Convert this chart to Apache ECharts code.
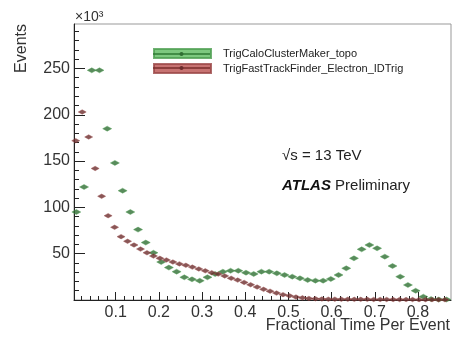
<!DOCTYPE html>
<html><head><meta charset="utf-8">
<script src="https://cdn.jsdelivr.net/npm/echarts@6/dist/echarts.min.js"></script>
<style>html,body{margin:0;padding:0;background:#fff}#c{width:453px;height:337px}</style>
</head><body><div id="c"></div>
<script>
// ---- data (Events in units of 10^3) ----
const seriesNames = ['TrigCaloClusterMaker_topo', 'TrigFastTrackFinder_Electron_IDTrig'];
const caloBinWidth = 1 / 56;
const caloEvents = [95, 122, 248, 248, 185, 148, 118, 95, 76, 62,
  51, 41, 35, 30.6, 24.5, 22.3, 20.8, 24.5, 28, 30.6,
  31.6, 31.6, 29.5, 28.1, 30.6, 30.6, 28.8, 27, 25.2, 23.4,
  21.6, 20.9, 20.9, 22.7, 27, 34.2, 45, 54.7, 59.4, 55.8,
  46.8, 36.7, 25.2, 16.2, 10, 3.6, 1, 0.5, 0.5];
const trackBinWidth = 0.015;
const trackEvents = [172, 203, 176, 142, 112, 91, 78.5, 68.4, 63.4, 59.4,
  55, 51, 47.5, 45, 43.2, 41, 39, 37.5, 35.5, 33.5,
  31.5, 29.5, 28, 26, 23.5, 21.5, 19, 16.5, 14, 11.5,
  9.5, 7.5, 5.8, 4.5, 3.2, 2.3, 1.7, 1.3, 1.1, 0.9,
  0.9, 0.8, 0.8, 0.7, 0.7, 0.7, 0.6, 0.6, 0.6, 0.5,
  0.5, 0.5, 0.5, 0.4, 0.4, 0.4, 0.3, 0.3];
const xTickLabels = [0.1, 0.2, 0.3, 0.4, 0.5, 0.6, 0.7, 0.8];
const yTickLabels = [50, 100, 150, 200, 250];
const xTitle = 'Fractional Time Per Event';
const yTitle = 'Events';

// minor tick lists
const xMinor = [];
for (let i = 1; i <= 43; i++) { if (i % 5 !== 0) xMinor.push(+(i * 0.02).toFixed(2)); }
const yMinor = [];
for (let v = 10; v <= 290; v += 10) { if (v % 50 !== 0) yMinor.push(v); }

const toPoints = (vals, w) => vals.map((v, i) => [(i + 0.5) * w, v]);

const FONT = "'Liberation Sans', Arial, Helvetica, sans-serif";
const X_MIN = 0.0035, X_MAX = 0.8765, Y_MIN = 0, Y_MAX = 298;

const chart = echarts.init(document.getElementById('c'), null, {renderer: 'canvas'});
chart.setOption({
  animation: false,
  backgroundColor: '#fff',
  textStyle: {fontFamily: FONT},
  grid: {left: 74, right: 2, top: 24, bottom: 37, show: true, borderColor: '#999', borderWidth: 1,
    containLabel: false, outerBoundsMode: 'none'},
  xAxis: [{
    type: 'value', min: X_MIN, max: X_MAX,
    axisLine: {lineStyle: {color: '#222', width: 1}},
    axisTick: {inside: true, length: 8, customValues: xTickLabels, lineStyle: {color: '#222'}},
    axisLabel: {customValues: xTickLabels, fontSize: 16, color: '#333', margin: 5,
      formatter: v => v.toFixed(1)},
    splitLine: {show: false}
  }, {
    type: 'value', min: X_MIN, max: X_MAX, position: 'bottom',
    axisLine: {show: false},
    axisTick: {inside: true, length: 4, customValues: xMinor, lineStyle: {color: '#222'}},
    axisLabel: {show: false}, splitLine: {show: false}
  }],
  yAxis: [{
    type: 'value', min: Y_MIN, max: Y_MAX,
    axisLine: {show: true, lineStyle: {color: '#222', width: 1}},
    axisTick: {show: true, inside: true, length: 11, customValues: [0].concat(yTickLabels), lineStyle: {color: '#222'}},
    axisLabel: {customValues: yTickLabels, fontSize: 16, color: '#333', margin: 4},
    splitLine: {show: false},
    name: yTitle, nameLocation: 'end', nameRotate: 90, nameGap: 0,
    nameTextStyle: {fontSize: 16, color: '#333', align: 'right', verticalAlign: 'bottom', padding: [0, 0, 44, 0]}
  }, {
    type: 'value', min: Y_MIN, max: Y_MAX, position: 'left',
    axisLine: {show: false},
    axisTick: {show: true, inside: true, length: 5, customValues: yMinor, lineStyle: {color: '#222'}},
    axisLabel: {show: false}, splitLine: {show: false}
  }],
  legend: {
    left: 153, top: 48, orient: 'vertical', icon: 'rect', padding: 0,
    itemWidth: 57, itemHeight: 9, itemGap: 4,
    textStyle: {fontSize: 11, color: '#222', padding: [0, 0, 0, 7]},
    selectedMode: false,
    data: [
      {name: seriesNames[0], itemStyle: {color: '#5cba5f'}},
      {name: seriesNames[1], itemStyle: {color: '#b9504f'}}
    ]
  },
  graphic: [
    {type: 'text', left: 75, top: 10, style: {text: '×10³', fontSize: 14, fill: '#333', fontFamily: FONT}},
    {type: 'text', right: 3, top: 318, style: {text: xTitle, fontSize: 16, fill: '#333', fontFamily: FONT}},
    {type: 'text', left: 282, top: 148, style: {text: '√s = 13 TeV', fontSize: 15, fill: '#222', fontFamily: FONT}},
    {type: 'text', left: 282, top: 178, style: {
      text: '{b|ATLAS} Preliminary', fontSize: 15, fill: '#222', fontFamily: FONT,
      rich: {b: {fontSize: 15, fontWeight: 'bold', fontStyle: 'italic', fill: '#111', fontFamily: FONT}}}},
    {type: 'line', shape: {x1: 153, y1: 54, x2: 210, y2: 54}, style: {stroke: '#2f7a33', lineWidth: 1.5}, z: 100},
    {type: 'circle', shape: {cx: 181.5, cy: 54, r: 2}, style: {fill: '#2f6e33'}, z: 100},
    {type: 'line', shape: {x1: 153, y1: 68, x2: 210, y2: 68}, style: {stroke: '#7a2c2c', lineWidth: 1.5}, z: 100},
    {type: 'circle', shape: {cx: 181.5, cy: 68, r: 2}, style: {fill: '#6b2d2d'}, z: 100}
  ],
  series: [{
    name: seriesNames[0], type: 'scatter', xAxisIndex: 0, yAxisIndex: 0,
    symbol: 'diamond', symbolSize: [9, 5],
    itemStyle: {color: '#2f6e33', borderColor: '#4c9e50', borderWidth: 0.5},
    data: toPoints(caloEvents, caloBinWidth)
  }, {
    name: seriesNames[1], type: 'scatter', xAxisIndex: 0, yAxisIndex: 0,
    symbol: 'diamond', symbolSize: [8, 4.5],
    itemStyle: {color: '#6b2d2d', borderColor: '#9a4646', borderWidth: 0.5},
    data: toPoints(trackEvents, trackBinWidth)
  }]
});
</script>
</body></html>
